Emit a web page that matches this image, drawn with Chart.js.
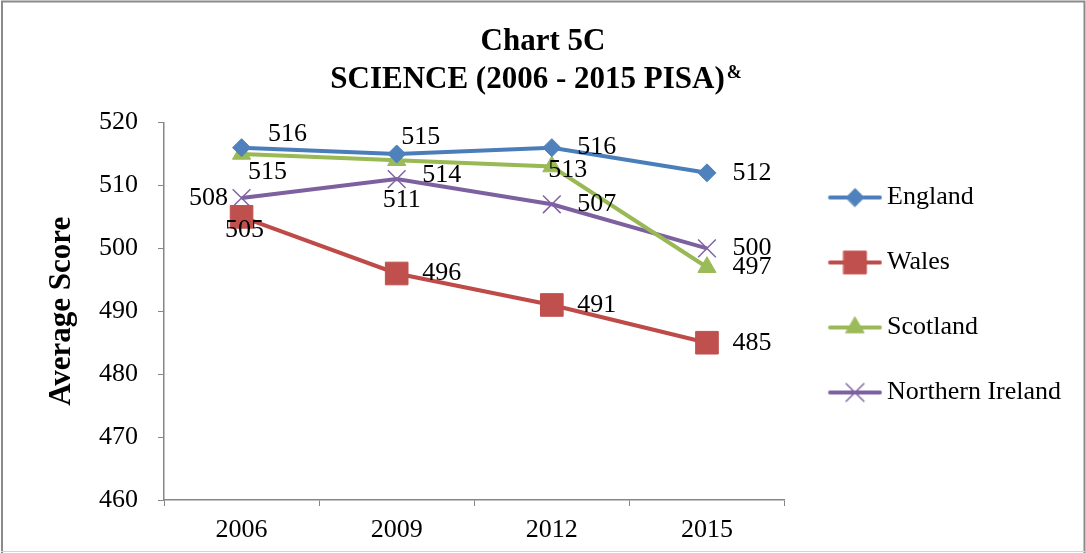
<!DOCTYPE html>
<html>
<head>
<meta charset="utf-8">
<title>Chart 5C - Science (2006 - 2015 PISA)</title>
<script src="https://cdn.jsdelivr.net/npm/chart.js@4.4.1/dist/chart.umd.min.js"></script>
<style>
  html, body { margin: 0; padding: 0; background: #fff; }
  #wrap { position: relative; width: 1086px; height: 553px; }
</style>
</head>
<body>
<div id="wrap"><canvas id="chart"></canvas></div>
<script>
/* ---------- Data ---------- */
const YEARS = ['2006', '2009', '2012', '2015'];
const ENGLAND = [516, 515, 516, 512];
const WALES = [505, 496, 491, 485];
const SCOTLAND = [515, 514, 513, 497];
const NORTHERN_IRELAND = [508, 511, 507, 500];

const Y_MIN = 460;
const Y_MAX = 520;
const Y_STEP = 10;

const TITLE = 'Chart 5C';
const SUBTITLE = 'SCIENCE (2006 - 2015 PISA)';
const SUPERSCRIPT = '&';
const Y_TITLE = 'Average Score';

/* ---------- Styles ---------- */
const SERIF = "'Liberation Serif', 'Times New Roman', serif";
const AXIS = '#868686';

// where each value label sits relative to its marker (dx, dy)
const LABEL_OFFSETS = {
  'England': [[46, -13], [24, -17], [45, 0], [45, 0]],
  'Wales': [[3, 13], [45, 0], [45, 0], [45, 0]],
  'Scotland': [[26, 18], [45, 15], [16, 4], [45, 0]],
  'Northern Ireland': [[-33, 0], [5, 21], [45, 0], [45, 0]],
};

const datasets = [
  { label: 'England', data: ENGLAND, borderColor: '#4A7EBB', pointBackgroundColor: '#4F81BD',
    pointBorderColor: '#4F81BD', pointStyle: 'rectRot', pointRadius: 9, pointBorderWidth: 1 },
  { label: 'Wales', data: WALES, borderColor: '#BE4B48', pointBackgroundColor: '#C0504D',
    pointBorderColor: '#C0504D', pointStyle: 'rect', pointRadius: 16, pointBorderWidth: 1 },
  { label: 'Scotland', data: SCOTLAND, borderColor: '#98B954', pointBackgroundColor: '#9BBB59',
    pointBorderColor: '#9BBB59', pointStyle: 'triangle', pointRadius: 10.5, pointBorderWidth: 1 },
  { label: 'Northern Ireland', data: NORTHERN_IRELAND, borderColor: '#7D60A0', pointBackgroundColor: '#8064A2',
    pointBorderColor: '#8064A2', pointStyle: 'crossRot', pointRadius: 12.5, pointBorderWidth: 1.5 },
].map((d) => ({ ...d, borderWidth: 4, tension: 0, fill: false, pointHoverRadius: d.pointRadius }));

/* ---------- Legend icons: line with the marker in the middle ---------- */
function legendIcon(ds) {
  const c = document.createElement('canvas');
  c.width = 67;
  c.height = 26;
  const ctx = c.getContext('2d');
  ctx.strokeStyle = ds.borderColor;
  ctx.lineWidth = 4;
  ctx.lineCap = 'round';
  ctx.beginPath();
  ctx.moveTo(14.75, 13);
  ctx.lineTo(64.75, 13);
  ctx.stroke();
  ctx.fillStyle = ds.pointBackgroundColor;
  ctx.strokeStyle = ds.pointBorderColor;
  ctx.lineWidth = ds.pointBorderWidth;
  Chart.helpers.drawPoint(ctx, {
    pointStyle: ds.pointStyle, radius: ds.pointRadius, borderWidth: ds.pointBorderWidth, rotation: 0,
  }, 39.75, 13);
  return c;
}
const LEGEND_ICONS = datasets.map(legendIcon);

/* ---------- Plugins ---------- */
// value labels next to every point
const pointLabels = {
  id: 'pointLabels',
  afterDatasetsDraw(chart) {
    const ctx = chart.ctx;
    ctx.save();
    ctx.font = `26px ${SERIF}`;
    ctx.fillStyle = '#000';
    ctx.textAlign = 'center';
    ctx.textBaseline = 'middle';
    chart.data.datasets.forEach((ds, i) => {
      const offs = LABEL_OFFSETS[ds.label];
      chart.getDatasetMeta(i).data.forEach((pt, j) => {
        const [dx, dy] = offs[j];
        ctx.fillText(String(ds.data[j]), pt.x + dx, pt.y + dy);
      });
    });
    ctx.restore();
  },
};

// superscript "&" after the second title line, plus the outer frame
const titleExtras = {
  id: 'titleExtras',
  afterDraw(chart) {
    const ctx = chart.ctx;
    const box = chart.boxes.find((b) => b.options && typeof b.options.text === 'string' && b.options.text.startsWith(SUBTITLE));
    ctx.save();
    if (box) {
      ctx.font = `bold 31px ${SERIF}`;
      const full = ctx.measureText(box.options.text).width;
      const main = ctx.measureText(SUBTITLE).width;
      const left = (box.left + box.right) / 2 - full / 2;
      const mid = box.top + 18 + 15.5;
      ctx.font = `bold 18px ${SERIF}`;
      ctx.fillStyle = '#000';
      ctx.textAlign = 'left';
      ctx.textBaseline = 'alphabetic';
      ctx.fillText(SUPERSCRIPT, left + main + 2, mid - 2);
    }
    // frame
    ctx.strokeStyle = '#8a8a8a';
    ctx.lineWidth = 2;
    ctx.beginPath();
    ctx.moveTo(2, 553); ctx.lineTo(2, 1.5); ctx.lineTo(1084.5, 1.5); ctx.lineTo(1084.5, 553);
    ctx.stroke();
    ctx.strokeStyle = '#d4d4d4';
    ctx.lineWidth = 1;
    ctx.beginPath();
    ctx.moveTo(1, 551.5); ctx.lineTo(1085, 551.5);
    ctx.stroke();
    ctx.restore();
  },
};

/* ---------- Chart ---------- */
new Chart(document.getElementById('chart'), {
  type: 'line',
  data: { labels: YEARS, datasets },
  options: {
    responsive: true,
    maintainAspectRatio: false,
    animation: false,
    layout: { padding: { top: 37, left: 15, right: 15, bottom: 0 } },
    plugins: {
      title: {
        display: true, text: TITLE, color: '#000', padding: 0,
        font: { family: SERIF, size: 31, weight: 'bold', lineHeight: '9px' },
      },
      subtitle: {
        display: true, text: SUBTITLE + '\u2003', color: '#000', padding: { top: 18, bottom: 27.5 },
        font: { family: SERIF, size: 31, weight: 'bold', lineHeight: 1 },
      },
      legend: {
        position: 'right',
        maxWidth: 300, // the layout would otherwise cap it and clip "Northern Ireland"
        labels: {
          usePointStyle: true,
          pointStyleWidth: 50.5,
          padding: 39,
          color: '#000',
          font: { family: SERIF, size: 26 },
          generateLabels(chart) {
            const items = Chart.defaults.plugins.legend.labels.generateLabels(chart);
            return items.map((it, i) => ({ ...it, pointStyle: LEGEND_ICONS[i] }));
          },
        },
      },
      tooltip: { enabled: false },
    },
    scales: {
      x: {
        offset: true,
        grid: { display: true, drawOnChartArea: false, drawTicks: true, tickLength: 6, color: AXIS, offset: true },
        border: { display: true, color: AXIS, width: 1.5 },
        ticks: { color: '#000', font: { family: SERIF, size: 26 }, padding: 9 },
        afterFit(scale) { scale.height = 53; },
      },
      y: {
        min: Y_MIN,
        max: Y_MAX,
        grid: { display: true, drawOnChartArea: false, drawTicks: true, tickLength: 6, color: AXIS },
        border: { display: true, color: AXIS, width: 1.5 },
        ticks: { stepSize: Y_STEP, color: '#000', font: { family: SERIF, size: 26 }, padding: 20 },
        title: {
          display: true, text: Y_TITLE, color: '#000', padding: { top: 28.4, bottom: 0 },
          font: { family: SERIF, size: 31, weight: 'bold' },
        },
        afterFit(scale) { scale.width = 149; },
      },
    },
  },
  plugins: [pointLabels, titleExtras],
});
</script>
</body>
</html>
